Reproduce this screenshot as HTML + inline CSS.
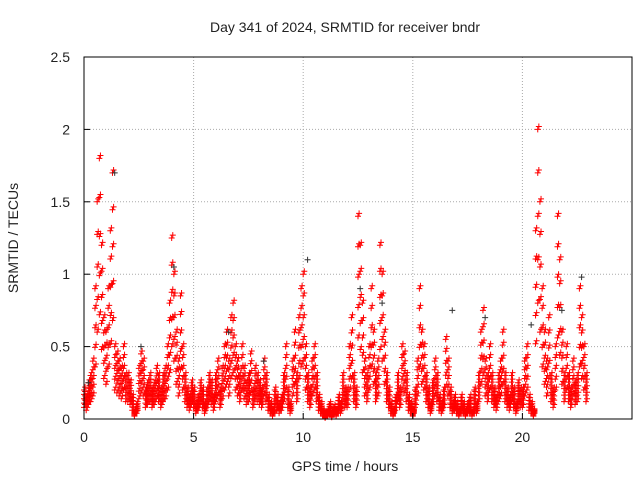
<!DOCTYPE html>
<html><head><meta charset="utf-8"><style>
body{margin:0;background:#fff}
text{font-family:"Liberation Sans",sans-serif;font-size:14px;fill:#222}
</style></head><body>
<svg id="chart" width="640" height="480" xmlns="http://www.w3.org/2000/svg">
<rect width="640" height="480" fill="#fff"/>
<text x="345" y="32" text-anchor="middle">Day 341 of 2024, SRMTID for receiver bndr</text>
<text x="345" y="471" text-anchor="middle">GPS time / hours</text>
<text transform="translate(18,238) rotate(-90)" text-anchor="middle">SRMTID / TECUs</text>
<g id="grid"></g><g id="marks"></g>
<rect x="84" y="57" width="548" height="362" fill="none" stroke="#000" stroke-width="1"/>
<g id="ticks"></g>
</svg>
<script>
const xTicks=[0,5,10,15,20];
const yTicks=[0,0.5,1,1.5,2,2.5];
const yLabels=["0","0.5","1","1.5","2","2.5"];
const startHour=0, stepHour=0.1;
const redValues=[0.2,0.15,0.25,0.3,0.4,0.9,1.5,1.8,1.2,0.7,0.6,0.9,1.3,1.7,0.5,0.45,0.4,0.35,0.5,0.3,
0.3,0.25,0.15,0.05,0.1,0.35,0.45,0.4,0.2,0.25,0.3,0.2,0.25,0.35,0.3,0.2,0.3,0.35,0.5,0.8,
1.25,1.0,0.6,0.4,0.85,0.5,0.3,0.2,0.15,0.25,0.2,0.1,0.15,0.25,0.2,0.1,0.2,0.3,0.25,0.15,
0.3,0.4,0.2,0.35,0.5,0.6,0.4,0.7,0.8,0.5,0.4,0.3,0.5,0.35,0.25,0.3,0.45,0.2,0.35,0.3,
0.25,0.2,0.4,0.3,0.15,0.1,0.05,0.2,0.15,0.1,0.15,0.3,0.5,0.2,0.1,0.4,0.6,0.3,0.7,0.9,
1.0,0.5,0.3,0.2,0.4,0.5,0.3,0.15,0.1,0.05,0.02,0.05,0.1,0.03,0.08,0.05,0.15,0.1,0.3,0.2,
0.2,0.5,0.7,0.3,0.2,1.4,1.2,0.8,0.4,0.3,0.5,0.9,0.6,0.3,0.4,1.2,1.0,0.6,0.3,0.2,
0.1,0.05,0.15,0.3,0.2,0.5,0.45,0.3,0.15,0.1,0.05,0.2,0.4,0.9,0.6,0.5,0.3,0.2,0.1,0.25,
0.4,0.3,0.15,0.1,0.2,0.55,0.4,0.2,0.1,0.15,0.1,0.05,0.15,0.1,0.05,0.1,0.15,0.05,0.2,0.1,
0.3,0.6,0.75,0.4,0.3,0.5,0.3,0.2,0.15,0.3,0.4,0.6,0.3,0.2,0.15,0.3,0.2,0.1,0.25,0.2,
0.2,0.4,0.5,0.15,0.1,0.05,1.3,2.0,1.5,0.9,0.6,0.4,0.7,0.3,0.2,0.5,1.4,1.1,0.6,0.3,
0.5,0.3,0.2,0.4,0.25,0.3,0.9,0.7,0.5,0.3];
const darkHours=[0.2,1.4,2.6,4.1,6.6,8.2,10.2,12.6,13.6,16.8,18.3,20.4,21.8,22.7];
const darkValues=[0.25,1.7,0.5,1.05,0.6,0.4,1.1,0.9,0.8,0.75,0.7,0.65,0.75,0.98];
const X=h=>84+h*(548/25), Y=v=>419-v*(362/2.5);
const NS="http://www.w3.org/2000/svg";
const grid=document.getElementById('grid'),ticks=document.getElementById('ticks'),marks=document.getElementById('marks');
function el(t,a,p){const e=document.createElementNS(NS,t);for(const k in a)e.setAttribute(k,a[k]);p.appendChild(e);return e;}
xTicks.forEach(t=>{
 if(t>0){const g=el('line',{x1:X(t),x2:X(t),y1:57,y2:419,stroke:'#aaa','stroke-dasharray':'1,2'},grid);
 
 }
 el('line',{x1:X(t),x2:X(t),y1:419,y2:413,stroke:'#000'},ticks);
 const l=el('text',{x:X(t),y:442,'text-anchor':'middle'},ticks);l.textContent=t;
 
 
});
yTicks.forEach((t,i)=>{
 if(t>0&&t<2.5){const g=el('line',{x1:84,x2:632,y1:Y(t),y2:Y(t),stroke:'#aaa','stroke-dasharray':'1,2'},grid);
 
 }
 el('line',{x1:84,x2:90,y1:Y(t),y2:Y(t),stroke:'#000'},ticks);
 const l=el('text',{x:70,y:Y(t)+5,'text-anchor':'end'},ticks);l.textContent=yLabels[i];
 
 
});
function plus(x,y,c){
 const p=el('path',{d:`M${x-3} ${y}h6M${x} ${y-3}v6`,stroke:c,'stroke-width':1},marks);
 
 
}
redValues.forEach((v,i)=>{
 const h=startHour+i*stepHour;
 for(let f=0.4;f<=1.001;f+=0.15){
  for(let d=0;d<2;d++){plus(X(h+d*0.05),Y(v*f+(d?0.02:0)),'#f00');}
 }
});
darkHours.forEach((h,i)=>plus(X(h),Y(darkValues[i]),'#333'));
</script>
</body></html>
